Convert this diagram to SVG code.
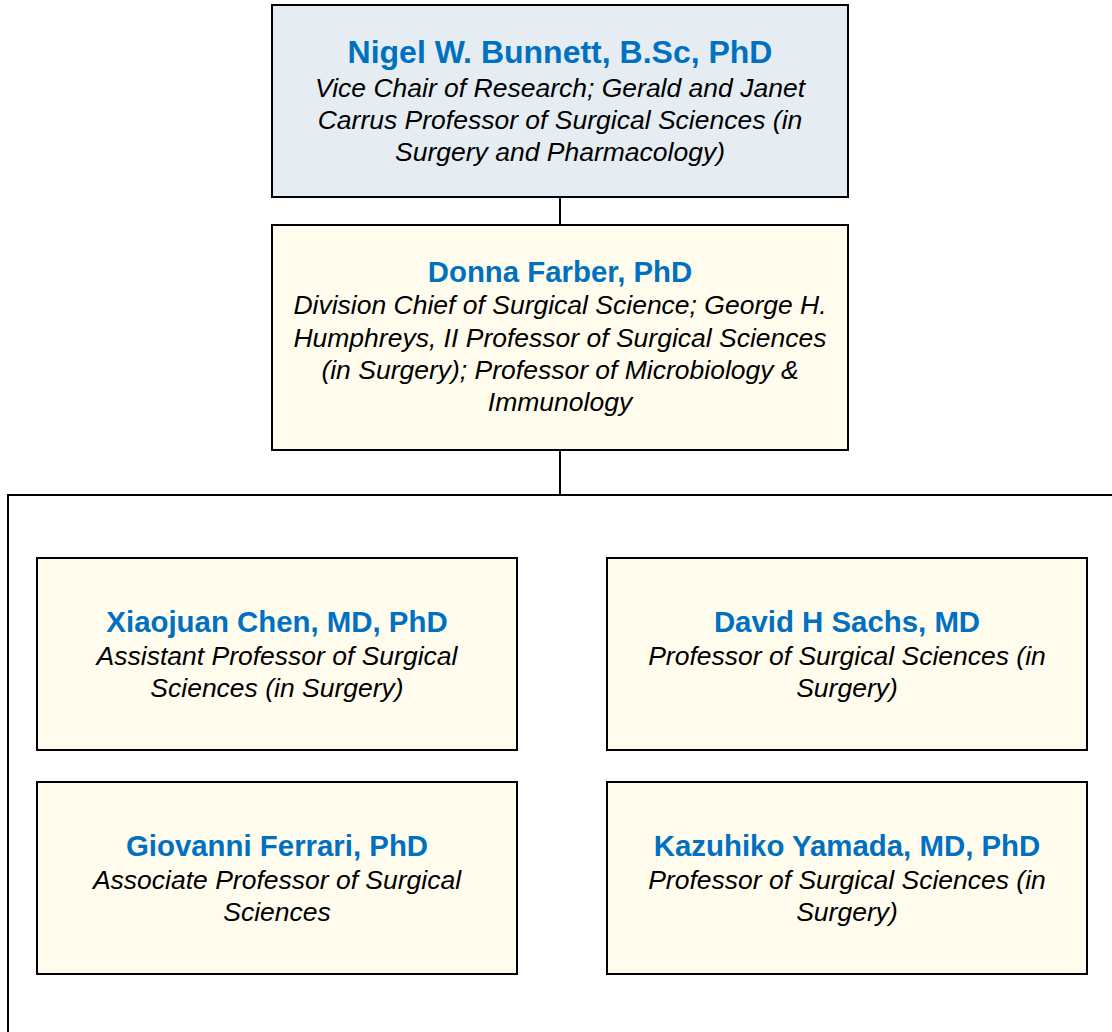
<svg xmlns="http://www.w3.org/2000/svg" width="1112" height="1032" viewBox="0 0 1112 1032">
<style>
.box{stroke:#000;stroke-width:2}
.top{fill:#e5edf3}
.cream{fill:#fffcee}
.conn{stroke:#000;stroke-width:2;fill:none}
.t{font-family:"Liberation Sans",Arial,sans-serif;font-weight:bold;font-size:29.4px;fill:#0070c0;text-anchor:middle}
.tb{font-size:32px}
.s{font-family:"Liberation Sans",Arial,sans-serif;font-style:italic;font-size:26.5px;fill:#000;text-anchor:middle}
</style>
<rect width="1112" height="1032" fill="#fff"/>
<g id="connectors">
<line class="conn" x1="560" y1="197" x2="560" y2="225"/>
<line class="conn" x1="560" y1="450" x2="560" y2="495"/>
<polyline class="conn" points="1112,495 8,495 8,1032"/>
</g>
<g id="n1">
<rect class="box top" x="272" y="5" width="576" height="192"/>
<text class="t tb" x="560" y="63">Nigel W. Bunnett, B.Sc, PhD</text>
<text class="s" x="560" y="97">Vice Chair of Research; Gerald and Janet</text>
<text class="s" x="560" y="129">Carrus Professor of Surgical Sciences (in</text>
<text class="s" x="560" y="161">Surgery and Pharmacology)</text>
</g>
<g id="n2">
<rect class="box cream" x="272" y="225" width="576" height="225"/>
<text class="t" x="560" y="282">Donna Farber, PhD</text>
<text class="s" x="560" y="314">Division Chief of Surgical Science; George H.</text>
<text class="s" x="560" y="347">Humphreys, II Professor of Surgical Sciences</text>
<text class="s" x="560" y="379">(in Surgery); Professor of Microbiology &amp;</text>
<text class="s" x="560" y="411">Immunology</text>
</g>
<g id="n3">
<rect class="box cream" x="37" y="558" width="480" height="192"/>
<text class="t" x="277" y="632">Xiaojuan Chen, MD, PhD</text>
<text class="s" x="277" y="665">Assistant Professor of Surgical</text>
<text class="s" x="277" y="697">Sciences (in Surgery)</text>
</g>
<g id="n4">
<rect class="box cream" x="607" y="558" width="480" height="192"/>
<text class="t" x="847" y="632">David H Sachs, MD</text>
<text class="s" x="847" y="665">Professor of Surgical Sciences (in</text>
<text class="s" x="847" y="697">Surgery)</text>
</g>
<g id="n5">
<rect class="box cream" x="37" y="782" width="480" height="192"/>
<text class="t" x="277" y="856">Giovanni Ferrari, PhD</text>
<text class="s" x="277" y="889">Associate Professor of Surgical</text>
<text class="s" x="277" y="921">Sciences</text>
</g>
<g id="n6">
<rect class="box cream" x="607" y="782" width="480" height="192"/>
<text class="t" x="847" y="856">Kazuhiko Yamada, MD, PhD</text>
<text class="s" x="847" y="889">Professor of Surgical Sciences (in</text>
<text class="s" x="847" y="921">Surgery)</text>
</g>
</svg>
